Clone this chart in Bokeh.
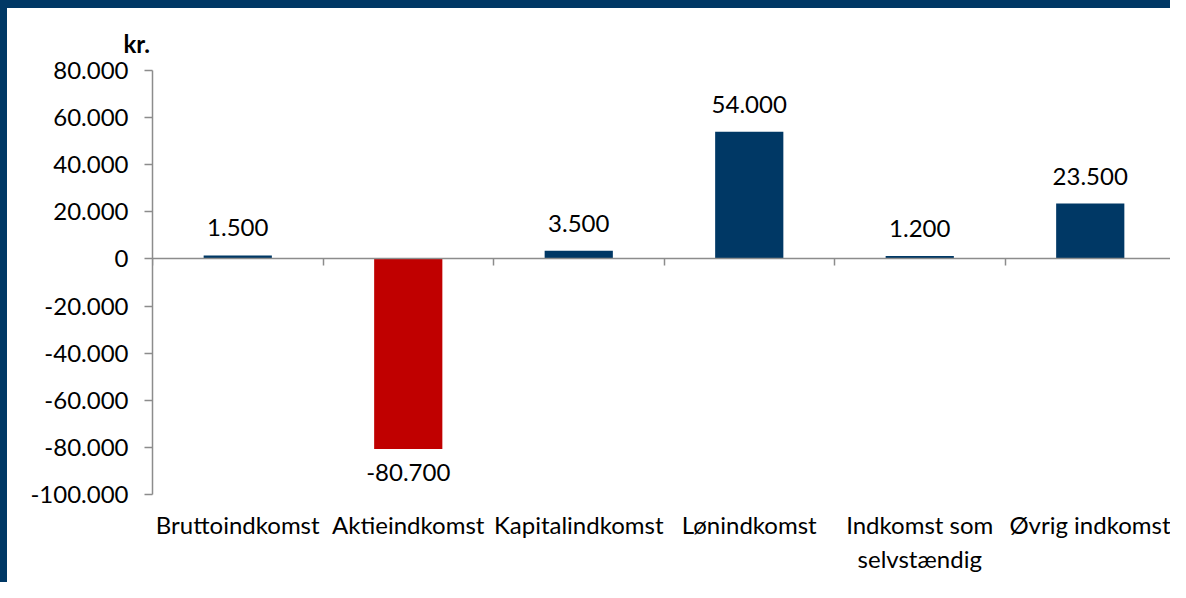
from bokeh.plotting import figure
from bokeh.models import (Range1d, LinearAxis, FixedTicker, CustomJSTickFormatter,
                          ColumnDataSource)
from bokeh.core.properties import value
from bokeh.embed import file_html
from bokeh.resources import INLINE

# ---- data ----
categories = ["Bruttoindkomst", "Aktieindkomst", "Kapitalindkomst",
              "Lønindkomst", "Indkomst som\nselvstændig", "Øvrig indkomst"]
values = [1500, -80700, 3500, 54000, 1200, 23500]
y_ticks = [-100000, -80000, -60000, -40000, -20000, 0, 20000, 40000, 60000, 80000]
y_tick_labels = ["-100.000", "-80.000", "-60.000", "-40.000", "-20.000", "0",
                 "20.000", "40.000", "60.000", "80.000"]
unit_label = "kr."

BLUE = "#003865"
RED = "#C00000"
GRAY = "#8c8c8c"
FONT = "Lato"

n = len(categories)
xs = [i + 0.5 for i in range(n)]
colors = [RED if v < 0 else BLUE for v in values]
labels = [f"{v:,}".replace(",", ".") for v in values]

bars = ColumnDataSource(dict(x=xs, top=values, color=colors))
pos = ColumnDataSource(dict(x=[x for x, v in zip(xs, values) if v >= 0],
                            y=[v for v in values if v >= 0],
                            t=[l for l, v in zip(labels, values) if v >= 0]))
neg = ColumnDataSource(dict(x=[x for x, v in zip(xs, values) if v < 0],
                            y=[v for v in values if v < 0],
                            t=[l for l, v in zip(labels, values) if v < 0]))

p = figure(width=1170, height=582,
           x_range=Range1d(0, n), y_range=Range1d(y_ticks[0], y_ticks[-1]),
           output_backend="svg", toolbar_location=None,
           min_border_left=145, min_border_right=2,
           min_border_top=62, min_border_bottom=96)
p.styles = {"border-top": "8px solid " + BLUE, "border-left": "7px solid " + BLUE}
p.outline_line_color = None
p.xgrid.visible = False
p.ygrid.visible = False
p.background_fill_color = "white"
p.border_fill_color = "white"

# unit label as title
p.title.text = unit_label
p.title.align = "left"
p.title.offset = -29
p.title.text_font = FONT
p.title.text_font_size = "24px"
p.title.text_font_style = "bold"
p.title.text_color = "black"
p.title.standoff = 26

# bars
p.vbar(x="x", top="top", bottom=0, width=0.4, fill_color="color",
       line_color=None, source=bars)

# value labels
p.text(x="x", y="y", text="t", source=pos, text_font=value(FONT),
       text_font_size="24px", text_color="black", text_align="center",
       text_baseline="bottom", y_offset=-19)
p.text(x="x", y="y", text="t", source=neg, text_font=value(FONT),
       text_font_size="24px", text_color="black", text_align="center",
       text_baseline="top", y_offset=15)

# category labels axis (below)
xa = p.xaxis[0]
xa.ticker = FixedTicker(ticks=xs)
xa.formatter = CustomJSTickFormatter(args=dict(names=categories),
                                     code="return names[Math.floor(tick)];")
xa.axis_line_color = None
xa.major_tick_line_color = None
xa.minor_tick_line_color = None
xa.major_label_text_font = FONT
xa.major_label_text_font_size = "24px"
xa.major_label_text_color = "black"
xa.major_label_standoff = 9

# zero axis with category separators
za = LinearAxis(fixed_location=0, ticker=FixedTicker(ticks=list(range(n + 1))),
                formatter=CustomJSTickFormatter(code="return '';"),
                axis_line_color=GRAY, axis_line_width=1.5,
                major_tick_line_color=GRAY, major_tick_line_width=1.5,
                major_tick_out=7, major_tick_in=0,
                minor_tick_line_color=None)
p.add_layout(za, "below")

# y axis
ya = p.yaxis[0]
ya.ticker = FixedTicker(ticks=y_ticks)
ya.formatter = CustomJSTickFormatter(args=dict(yt=y_ticks, yl=y_tick_labels),
                                     code="const i = yt.indexOf(tick); return i >= 0 ? yl[i] : '';")
ya.axis_line_color = GRAY
ya.axis_line_width = 1.5
ya.major_tick_line_color = GRAY
ya.major_tick_line_width = 1.5
ya.major_tick_out = 8
ya.major_tick_in = 0
ya.minor_tick_line_color = None
ya.major_label_text_font = FONT
ya.major_label_text_font_size = "24px"
ya.major_label_text_color = "black"
ya.major_label_standoff = 16

open("out.html", "w").write(file_html(p, INLINE))
